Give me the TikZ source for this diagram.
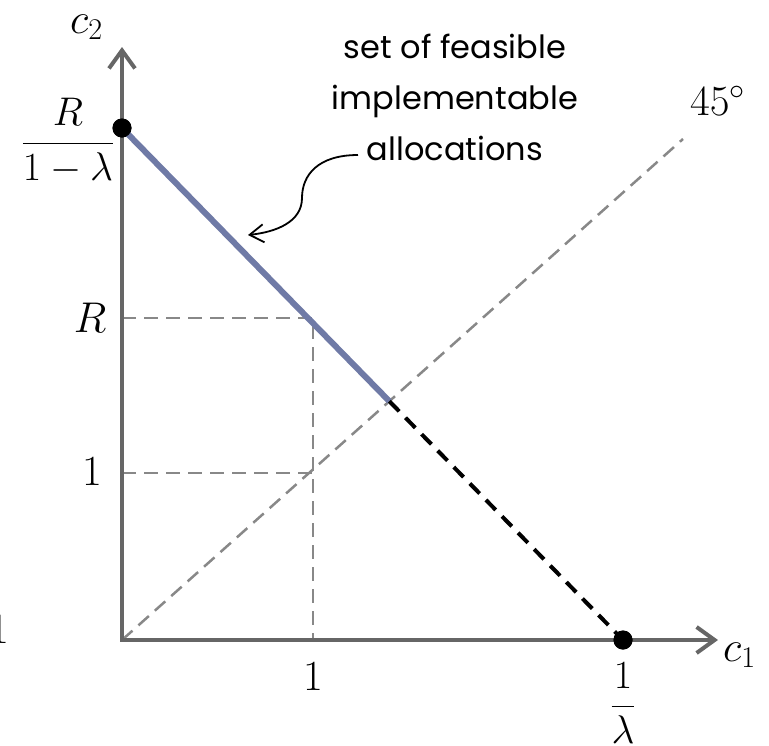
\RequirePackage{fix-cm}
\documentclass[tikz,border=0pt]{standalone}
\usepackage{amsmath}
\usepackage{fontspec}
\newfontfamily\labelfont{Poppins}
\usetikzlibrary{arrows.meta,calc}
\definecolor{axisgray}{RGB}{102,102,102}
\definecolor{guidegray}{RGB}{136,136,136}
\definecolor{feasblue}{RGB}{111,122,166}
\begin{document}
\begin{tikzpicture}[x=1pt,y=-1pt,
  axis/.style={draw=axisgray,line width=4pt,
    {Straight Barb[length=18pt,width=26pt]}-{Straight Barb[length=18pt,width=26pt]}},
  guide/.style={draw=guidegray,line width=2.5pt,dash pattern=on 14pt off 8pt},
  feas/.style={draw=feasblue,line width=6pt},
  ext/.style={draw=black,line width=4pt,dash pattern=on 14pt off 9pt},
  dotnode/.style={circle,fill=black,minimum size=19pt,inner sep=0pt},
  mlabel/.style={font=\fontsize{40}{48}\selectfont,inner sep=0pt},
  biglabel/.style={font=\fontsize{43}{52}\selectfont,inner sep=0pt},
  txtlabel/.style={font=\labelfont\fontsize{32}{51}\selectfont,align=center,inner sep=0pt},
  curvearrow/.style={draw=black,line width=1.8pt,-{Straight Barb[length=14pt,width=18pt]}}
]
\useasboundingbox (0,0) rectangle (769,745);
% key points
\coordinate (O) at (122,640);
\coordinate (ytip) at (122,47);
\coordinate (xtip) at (718,640);
\coordinate (rR) at (122,318);
\coordinate (rOne) at (122,473);
\coordinate (cR) at (313,318);
\coordinate (cOne) at (313,640);
\coordinate (cMid) at (313,473);
\coordinate (dEnd) at (683,139);
\coordinate (mid) at (389.4,401.3);
% guides
\draw[guide] (O) -- (dEnd);
\draw[guide] (rR) -- (cR) -- (cOne);
\draw[guide] (rOne) -- (cMid);
% axes
\draw[axis] (ytip) -- (O) -- (xtip);
% dots
\node[dotnode] (pTop) at (122,128) {};
\node[dotnode] (pBot) at (623,640) {};
% budget line
\draw[feas] (pTop.center) -- (mid);
\draw[ext] (mid) -- (pBot.center);
\node[dotnode] at (pTop) {};
\node[dotnode] at (pBot) {};
% labels
\node[biglabel,anchor=base west] (lc2) at (70,33) {$c_2$};
\node[biglabel,anchor=base west] (lc1) at (723,661) {$c_1$};
\node[mlabel,anchor=base] (lfrac) at (68,153) {$\dfrac{R}{1-\lambda}$};
\node[biglabel,anchor=base] (lR) at (90,332) {$R$};
\node[biglabel,anchor=base] (lOneY) at (92,485) {$1$};
\node[biglabel,anchor=base] (lOneX) at (313,690) {$1$};
\node[mlabel,anchor=base] (linv) at (623,716) {$\dfrac{1}{\lambda}$};
\node[biglabel,anchor=base west] (l45) at (690,115) {$45^\circ$};
\node[biglabel,anchor=base] (lcut) at (-1,643) {$1$};
% annotation
\node[txtlabel,anchor=north] (lbl) at (455,34) {set of feasible\\implementable\\allocations};
\coordinate (cs) at (358,155);
\coordinate (ce) at (248,235);
\draw[curvearrow] (cs) .. controls (318,155) and (302,175) .. (302,198)
  .. controls (302,222) and (276,232) .. (ce);
\end{tikzpicture}
\end{document}
